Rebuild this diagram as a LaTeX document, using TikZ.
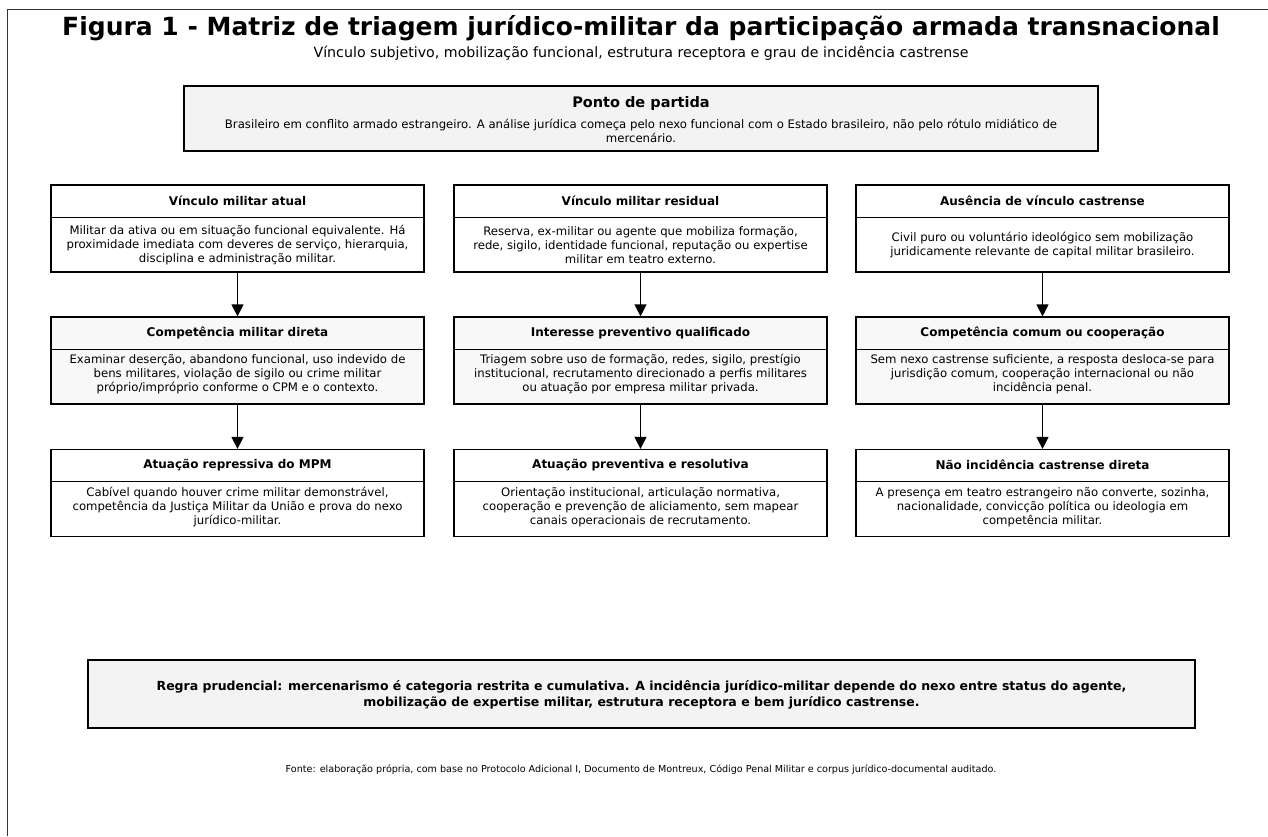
\documentclass[tikz,border=0pt]{standalone}
\usepackage{fontspec}
\setmainfont{DejaVu Sans}
\usetikzlibrary{arrows.meta}
\definecolor{boxgray}{HTML}{F3F3F3}
\definecolor{rowgray}{HTML}{F8F8F8}
\begin{document}
\begin{tikzpicture}[x=1pt,y=-1pt,
  card/.style={draw=black, line width=1.2pt, inner sep=0pt, minimum width=373pt, minimum height=87pt},
  hdr/.style={font=\fontsize{12}{14}\selectfont\bfseries, inner sep=0pt},
  body/.style={font=\fontsize{11.7}{14}\selectfont, align=center, inner sep=0pt},
  flow/.style={-{Triangle[length=12pt,width=12pt]}, line width=1.2pt},
  divider/.style={line width=0.9pt}
]
\useasboundingbox (0,0) rectangle (1268,836);
% frame
\draw[line width=0.9pt, black!80] (7,836) -- (7,9) -- (1268,9);

% title
\node[inner sep=0pt, font=\fontsize{25}{28}\selectfont\bfseries] (title) at (641,28) {Figura 1 - Matriz de triagem jurídico-militar da participação armada transnacional};
\node[inner sep=0pt, font=\fontsize{14.2}{16}\selectfont] (subtitle) at (641,53) {Vínculo subjetivo, mobilização funcional, estrutura receptora e grau de incidência castrense};

% starting point
\node[draw=black, line width=1.2pt, fill=boxgray, minimum width=914pt, minimum height=65pt, inner sep=0pt] (start) at (641,118.5) {};
\node[inner sep=0pt, font=\fontsize{14.5}{16}\selectfont\bfseries] (starthdr) at (641,103) {Ponto de partida};
\node[body] (startbody) at (641,131) {Brasileiro em conflito armado estrangeiro. A análise jurídica começa pelo nexo funcional com o Estado brasileiro, não pelo rótulo midiático de\\mercenário.};

% ---------- column 1
\node[card, fill=white] (a1) at (237.5,228.5) {};
\draw[divider] (a1.west |- 0,217) -- (a1.east |- 0,217);
\node[hdr] (a1h) at (237.5,201) {Vínculo militar atual};
\node[body] (a1b) at (237.5,245) {Militar da ativa ou em situação funcional equivalente. Há\\proximidade imediata com deveres de serviço, hierarquia,\\disciplina e administração militar.};

\node[card, fill=rowgray] (b1) at (237.5,360.5) {};
\draw[divider] (b1.west |- 0,349) -- (b1.east |- 0,349);
\node[hdr] (b1h) at (237.5,333) {Competência militar direta};
\node[body] (b1b) at (237.5,374) {Examinar deserção, abandono funcional, uso indevido de\\bens militares, violação de sigilo ou crime militar\\próprio/impróprio conforme o CPM e o contexto.};

\node[card, fill=white] (c1) at (237.5,493) {};
\draw[divider] (c1.west |- 0,481) -- (c1.east |- 0,481);
\node[hdr] (c1h) at (237.5,465) {Atuação repressiva do MPM};
\node[body] (c1b) at (237.5,507) {Cabível quando houver crime militar demonstrável,\\competência da Justiça Militar da União e prova do nexo\\jurídico-militar.};

% ---------- column 2
\node[card, fill=white] (a2) at (640.5,228.5) {};
\draw[divider] (a2.west |- 0,217) -- (a2.east |- 0,217);
\node[hdr] (a2h) at (640.5,201) {Vínculo militar residual};
\node[body] (a2b) at (640.5,245) {Reserva, ex-militar ou agente que mobiliza formação,\\rede, sigilo, identidade funcional, reputação ou expertise\\militar em teatro externo.};

\node[card, fill=rowgray] (b2) at (640.5,360.5) {};
\draw[divider] (b2.west |- 0,349) -- (b2.east |- 0,349);
\node[hdr] (b2h) at (640.5,333) {Interesse preventivo qualificado};
\node[body] (b2b) at (640.5,374) {Triagem sobre uso de formação, redes, sigilo, prestígio\\institucional, recrutamento direcionado a perfis militares\\ou atuação por empresa militar privada.};

\node[card, fill=white] (c2) at (640.5,493) {};
\draw[divider] (c2.west |- 0,481) -- (c2.east |- 0,481);
\node[hdr] (c2h) at (640.5,465) {Atuação preventiva e resolutiva};
\node[body] (c2b) at (640.5,507) {Orientação institucional, articulação normativa,\\cooperação e prevenção de aliciamento, sem mapear\\canais operacionais de recrutamento.};

% ---------- column 3
\node[card, fill=white] (a3) at (1042.5,228.5) {};
\draw[divider] (a3.west |- 0,217) -- (a3.east |- 0,217);
\node[hdr] (a3h) at (1042.5,201) {Ausência de vínculo castrense};
\node[body] (a3b) at (1042.5,245) {Civil puro ou voluntário ideológico sem mobilização\\juridicamente relevante de capital militar brasileiro.};

\node[card, fill=rowgray] (b3) at (1042.5,360.5) {};
\draw[divider] (b3.west |- 0,349) -- (b3.east |- 0,349);
\node[hdr] (b3h) at (1042.5,333) {Competência comum ou cooperação};
\node[body] (b3b) at (1042.5,374) {Sem nexo castrense suficiente, a resposta desloca-se para\\jurisdição comum, cooperação internacional ou não\\incidência penal.};

\node[card, fill=white] (c3) at (1042.5,493) {};
\draw[divider] (c3.west |- 0,481) -- (c3.east |- 0,481);
\node[hdr] (c3h) at (1042.5,465) {Não incidência castrense direta};
\node[body] (c3b) at (1042.5,507) {A presença em teatro estrangeiro não converte, sozinha,\\nacionalidade, convicção política ou ideologia em\\competência militar.};

% arrows
\foreach \c in {1,2,3}{
  \draw[flow] (a\c.south) -- (b\c.north);
  \draw[flow] (b\c.south) -- (c\c.north);
}

% rule
\node[draw=black, line width=1.2pt, fill=boxgray, minimum width=1107pt, minimum height=68pt, inner sep=0pt] (rule) at (641.5,694) {};
\node[inner sep=0pt, align=center, font=\fontsize{12.5}{16}\selectfont\bfseries] (ruletext) at (641.5,695) {Regra prudencial: mercenarismo é categoria restrita e cumulativa. A incidência jurídico-militar depende do nexo entre status do agente,\\mobilização de expertise militar, estrutura receptora e bem jurídico castrense.};

% source
\node[inner sep=0pt, font=\fontsize{9.6}{11}\selectfont] (fonte) at (641,770) {Fonte: elaboração própria, com base no Protocolo Adicional I, Documento de Montreux, Código Penal Militar e corpus jurídico-documental auditado.};
\end{tikzpicture}
\end{document}
